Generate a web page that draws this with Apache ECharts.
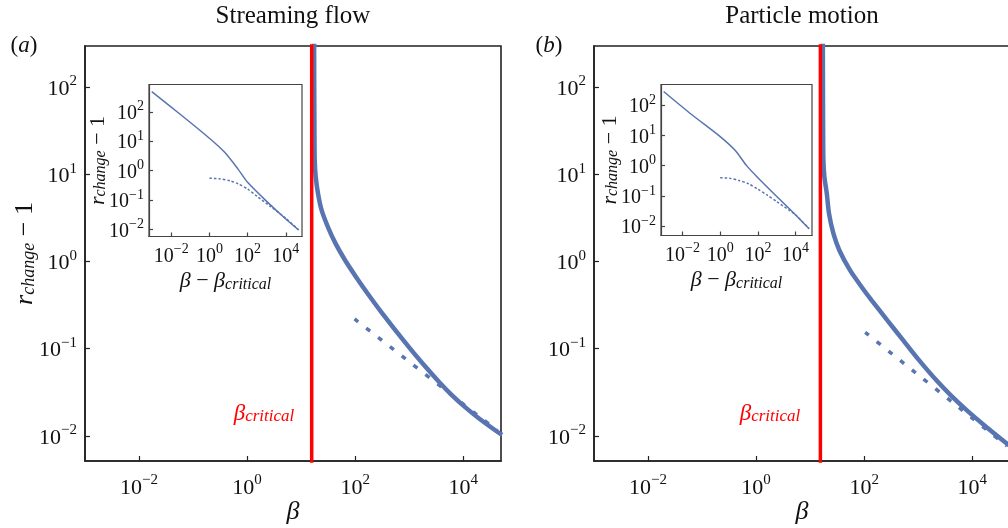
<!DOCTYPE html>
<html><head><meta charset="utf-8">
<script src="https://cdn.jsdelivr.net/npm/echarts@6/dist/echarts.min.js"></script>
<style>html,body{margin:0;padding:0;background:#fff}#c{width:1008px;height:528px}</style>
</head><body><div id="c"></div>
<script>
// ---------- data ----------
const titles = ['Streaming flow', 'Particle motion'];
const panelLetters = ['a', 'b'];
const betaCrit = [15.7, 15.5];
const xTicks = [0.01, 1, 100, 10000];
const yTicks = [0.01, 0.1, 1, 10, 100];

// main panels: [beta, r_change - 1]
const mainSolidA = [[17.38,501],[17.50,100],[17.66,31.6],[17.86,14.5],[18.66,9.31],[20.56,6.00],[24.04,3.85],[31.41,2.48],[43.55,1.60],[65.6,1.026],[104.7,0.661],[171.4,0.427],[302.7,0.265],[812.8,0.1213],[1778,0.0675],[3581,0.0416],[6310,0.0290],[11117,0.0211],[19953,0.01574],[39719,0.01153],[52481,0.01026]];
const mainDashA = [[97.7,0.219],[42700,0.0115]];
const mainSolidB = [[17.18,501],[17.30,100],[17.42,31.6],[17.62,14.5],[18.4,9.31],[20.37,6.0],[22.4,3.53],[27.04,2.08],[34.9,1.337],[55.08,0.789],[90.6,0.507],[139,0.356],[269,0.2113],[534.6,0.1236],[1000,0.0759],[2218,0.0428],[3981,0.0294],[7980,0.01963],[17783,0.01285],[40832,0.00847],[52481,0.00752]];
const mainDashB = [[104.7,0.154],[43954,0.00767]];

// insets: [beta - beta_critical, r_change - 1]
const insetSolidA = [[0.000955,490],[0.0316,79.4],[1,12.6],[6.31,4.17],[31.6,1.12],[100,0.398],[1000,0.0891],[10000,0.0224],[46800,0.00955]];
const insetDashA = [[1,0.55],[3.16,0.525],[12.3,0.447],[31.6,0.355],[100,0.234],[316,0.132],[1549,0.0603],[9772,0.024],[46800,0.00955]];
const insetSolidB = [[0.001,282],[0.0316,47.9],[1,9.12],[6.31,3.16],[25.1,1.0],[100,0.398],[1000,0.0955],[10000,0.0234],[52500,0.00813]];
const insetDashB = [[1,0.398],[3.16,0.380],[10,0.324],[31.6,0.251],[100,0.166],[316,0.105],[1000,0.0646],[10000,0.0234],[52500,0.00813]];

// ---------- styling ----------
const F = 'Liberation Serif';
const BLUE = '#5875b1';
const INK = '#111';

function supFmt(v){
  const e = Math.round(Math.log10(v));
  return '{b|10}{s|' + (e < 0 ? '\u2212' + (-e) : String(e)) + '}';
}
function richTick(big, small){
  return {
    b: {fontFamily: F, fontSize: big, lineHeight: big + 4, color: INK, verticalAlign: 'bottom'},
    s: {fontFamily: F, fontSize: small, lineHeight: small - 2, color: INK, verticalAlign: 'top'}
  };
}
function rName(big, small){
  return {
    r: {fontFamily: F, fontStyle: 'italic', fontSize: big, lineHeight: big + 4, color: INK, verticalAlign: 'bottom'},
    sub: {fontFamily: F, fontStyle: 'italic', fontSize: small, lineHeight: small - 4, color: INK, verticalAlign: 'bottom'},
    n: {fontFamily: F, fontSize: big, lineHeight: big + 4, color: INK, verticalAlign: 'bottom'}
  };
}
function axis(kind, gi, min, max, ticks, o){
  const a = {
    type: 'log', logBase: 10, gridIndex: gi, min: min, max: max,
    axisLine: {show: true, onZero: false, lineStyle: {color: o.lc, width: o.lw}},
    axisTick: {show: true, inside: true, length: o.tl, lineStyle: {color: o.lc, width: 1.2}, customValues: ticks},
    axisLabel: {show: true, customValues: ticks, formatter: supFmt, margin: o.margin, rich: richTick(o.fs, o.ss)},
    splitLine: {show: false}, minorTick: {show: false}, minorSplitLine: {show: false},
    nameMoveOverlap: false
  };
  if (o.name) {
    a.name = o.name; a.nameLocation = 'middle'; a.nameGap = o.nameGap;
    a.nameRotate = o.nameRotate || 0;
    a.nameTextStyle = o.nameStyle;
  }
  return a;
}

const mainX = {min: 0.001, max: Math.pow(10, 4.7)};
const mainY = {min: 0.00516, max: 295};
const insX = [{min: 0.000684, max: 70795}, {min: 0.000724, max: 74131}];
const insY = [{min: 0.00569, max: 851}, {min: 0.0049, max: 479}];

const grids = [
  {left: 85, top: 46, width: 416, height: 415, show: true, borderColor: '#222', borderWidth: 1.6, backgroundColor: 'transparent', containLabel: false, outerBoundsMode: 'none'},
  {left: 594, top: 46, width: 416, height: 415, show: true, borderColor: '#222', borderWidth: 1.6, backgroundColor: 'transparent', containLabel: false, outerBoundsMode: 'none'},
  {left: 149, top: 84.5, width: 153, height: 152, show: true, borderColor: '#444', borderWidth: 1.2, backgroundColor: '#fff', containLabel: false, outerBoundsMode: 'none'},
  {left: 661, top: 84.5, width: 151, height: 151, show: true, borderColor: '#444', borderWidth: 1.2, backgroundColor: '#fff', containLabel: false, outerBoundsMode: 'none'}
];

const mainXo = {lc: '#222', lw: 1.6, tl: 5, margin: 12, fs: 22, ss: 15, name: 'β', nameGap: 38,
  nameStyle: {fontFamily: F, fontStyle: 'italic', fontSize: 26, color: INK}};
const mainYo = {lc: '#222', lw: 1.6, tl: 5, margin: 8, fs: 22, ss: 15};
const insXo = {lc: '#444', lw: 1.2, tl: 4, margin: 6, fs: 20, ss: 14,
  name: '{g|β}{n| \u2212 }{g|β}{c|critical}', nameGap: 30,
  nameStyle: {rich: {
    g: {fontFamily: F, fontStyle: 'italic', fontSize: 22, lineHeight: 26, color: INK, verticalAlign: 'bottom'},
    n: {fontFamily: F, fontSize: 22, lineHeight: 26, color: INK, verticalAlign: 'bottom'},
    c: {fontFamily: F, fontStyle: 'italic', fontSize: 16, lineHeight: 12, color: INK, verticalAlign: 'bottom'}
  }}};
const insYo = {lc: '#444', lw: 1.2, tl: 4, margin: 5, fs: 20, ss: 14,
  name: '{r|r}{sub|change}{n| \u2212 1}', nameGap: 40, nameRotate: 90,
  nameStyle: {rich: rName(22, 16)}};

const xAxes = [
  axis('x', 0, mainX.min, mainX.max, xTicks, mainXo),
  axis('x', 1, mainX.min, mainX.max, xTicks, mainXo),
  axis('x', 2, insX[0].min, insX[0].max, xTicks, insXo),
  axis('x', 3, insX[1].min, insX[1].max, xTicks, insXo)
];
const mainYa = Object.assign({}, mainYo, {name: '{r|r}{sub|change}{n| \u2212 1}', nameGap: 47, nameRotate: 90, nameStyle: {rich: rName(26, 18)}});
const yAxes = [
  axis('y', 0, mainY.min, mainY.max, yTicks, mainYa),
  axis('y', 1, mainY.min, mainY.max, yTicks, mainYo),
  axis('y', 2, insY[0].min, insY[0].max, yTicks, insYo),
  axis('y', 3, insY[1].min, insY[1].max, yTicks, insYo)
];

function line(data, xi, width, dash, z){
  return {type: 'line', xAxisIndex: xi, yAxisIndex: xi, data: data, showSymbol: false, symbol: 'none',
    smooth: 0.25, clip: true, silent: true, z: z || 3,
    lineStyle: {color: BLUE, width: width, type: dash ? dash : 'solid', cap: 'butt'}};
}
function critLine(bc, xi){
  return {type: 'line', xAxisIndex: xi, yAxisIndex: xi, data: [[bc, 1e-4], [bc, 1e4]], showSymbol: false, symbol: 'none',
    clip: true, silent: true, z: 5, lineStyle: {color: '#ff0000', width: 3.5}};
}

const series = [
  line(mainSolidA, 0, 4.5), line(mainDashA, 0, 3.5, [5, 10]), critLine(betaCrit[0], 0),
  line(mainSolidB, 1, 4.5), line(mainDashB, 1, 3.5, [5, 10]), critLine(betaCrit[1], 1),
  line(insetSolidA, 2, 1.5), line(insetDashA, 2, 1.5, [2.5, 2]),
  line(insetSolidB, 3, 1.5), line(insetDashB, 3, 1.5, [2.5, 2])
];

const graphic = [];
const titleX = [293, 802], letterX = [24, 549], critLabelX = [264, 770];
for (let i = 0; i < 2; i++) {
  graphic.push({type: 'text', x: titleX[i], y: 16, style: {text: titles[i], fontFamily: F, fontSize: 25, fill: INK, align: 'center', verticalAlign: 'middle'}});
  graphic.push({type: 'text', x: letterX[i], y: 46, style: {text: '{n|(}{i|' + panelLetters[i] + '}{n|)}', align: 'center', verticalAlign: 'middle',
    rich: {n: {fontFamily: F, fontSize: 23, fill: INK, color: INK}, i: {fontFamily: F, fontStyle: 'italic', fontSize: 23, fill: INK, color: INK}}}});
  graphic.push({type: 'text', x: critLabelX[i], y: 412, style: {text: '{g|β}{c|critical}', align: 'center', verticalAlign: 'middle',
    rich: {g: {fontFamily: F, fontStyle: 'italic', fontSize: 23, lineHeight: 26, fill: '#ff0000', color: '#ff0000', verticalAlign: 'bottom'},
           c: {fontFamily: F, fontStyle: 'italic', fontSize: 17, lineHeight: 12, fill: '#ff0000', color: '#ff0000', verticalAlign: 'bottom'}}}});
}

const chart = echarts.init(document.getElementById('c'), null, {renderer: 'canvas'});
chart.setOption({
  animation: false,
  backgroundColor: '#fff',
  textStyle: {fontFamily: F},
  grid: grids, xAxis: xAxes, yAxis: yAxes, series: series, graphic: graphic
});
</script></body></html>
